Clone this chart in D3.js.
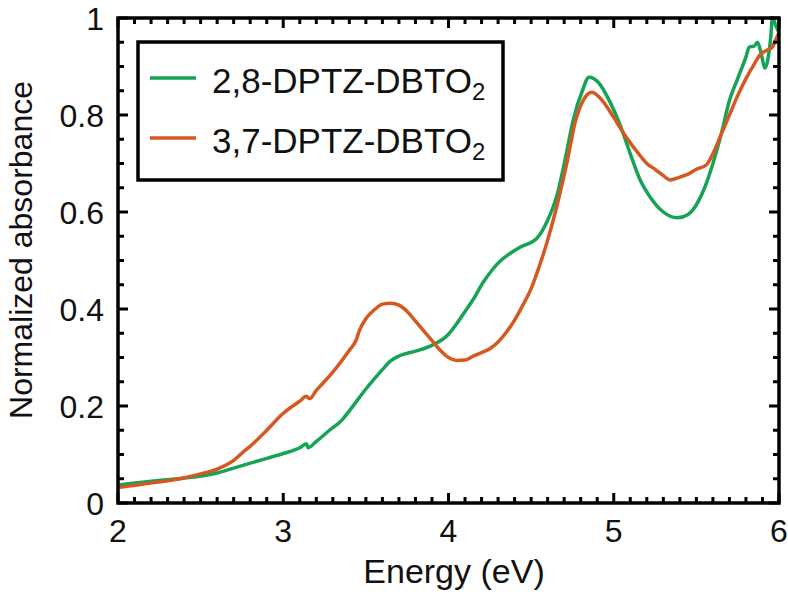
<!DOCTYPE html>
<html><head><meta charset="utf-8">
<script src="https://cdn.jsdelivr.net/npm/d3@7"></script>
<style>body{margin:0;background:#fff}svg{display:block}text{font-family:"Liberation Sans",Arial,sans-serif;fill:#111}</style>
</head><body><svg id="c" width="788" height="596"></svg>
<script>
const energyGreen = [2.0,2.2,2.39,2.6,2.75,2.9,3.0,3.1,3.14,3.15,3.2,3.28,3.355,3.4,3.5,3.6,3.65,3.7,3.8,3.9,4.0,4.05,4.1,4.15,4.21,4.27,4.31,4.37,4.43,4.535,4.6,4.66,4.705,4.755,4.81,4.85,4.905,4.98,5.04,5.1,5.16,5.22,5.3,5.383,5.45,5.5,5.55,5.6,5.65,5.7,5.75,5.8,5.82,5.85,5.87,5.89,5.915,5.93,5.95,5.96,5.98,6.0];
const absGreen = [0.037,0.045,0.051,0.062,0.077,0.092,0.102,0.114,0.122,0.114,0.127,0.15,0.171,0.19,0.235,0.275,0.293,0.303,0.313,0.325,0.348,0.37,0.395,0.42,0.455,0.483,0.498,0.514,0.527,0.546,0.583,0.639,0.707,0.79,0.85,0.878,0.868,0.825,0.778,0.72,0.666,0.631,0.60,0.588,0.595,0.615,0.65,0.70,0.76,0.83,0.875,0.92,0.94,0.942,0.95,0.93,0.897,0.91,0.96,1.0,0.985,0.97];
const energyOrange = [2.0,2.2,2.39,2.5,2.6,2.7,2.757,2.8,2.9,3.0,3.1,3.14,3.16,3.2,3.24,3.3,3.4,3.44,3.46,3.5,3.55,3.6,3.65,3.7,3.75,3.8,3.85,3.9,3.95,4.0,4.05,4.1,4.15,4.2,4.25,4.3,4.35,4.4,4.45,4.5,4.535,4.6,4.66,4.72,4.765,4.815,4.868,4.917,5.0,5.04,5.08,5.16,5.2,5.25,5.3,5.34,5.4,5.45,5.5,5.56,5.6,5.65,5.7,5.75,5.8,5.85,5.885,5.93,5.96,5.98,6.0];
const absOrange = [0.032,0.041,0.051,0.06,0.07,0.088,0.105,0.117,0.15,0.185,0.21,0.22,0.215,0.232,0.247,0.27,0.315,0.335,0.355,0.38,0.398,0.41,0.412,0.408,0.395,0.375,0.355,0.335,0.315,0.30,0.294,0.295,0.303,0.31,0.318,0.332,0.352,0.377,0.408,0.442,0.474,0.542,0.618,0.707,0.783,0.83,0.847,0.835,0.795,0.773,0.752,0.716,0.70,0.688,0.675,0.666,0.672,0.678,0.688,0.697,0.72,0.76,0.80,0.84,0.875,0.905,0.924,0.934,0.94,0.955,0.97];
const seriesNames = ["2,8-DPTZ-DBTO","3,7-DPTZ-DBTO"];
const seriesColors = ["#17a356","#d4581f"];
const xTicks = [2,3,4,5,6];
const yTicks = [0,0.2,0.4,0.6,0.8,1];
const yTickLabels = ["0","0.2","0.4","0.6","0.8","1"];

const svg = d3.select("#c");
const L=118,R=779,T=18,B=503;
const x = d3.scaleLinear().domain([2,6]).range([L,R]);
const y = d3.scaleLinear().domain([0,1]).range([B,T]);

svg.append("clipPath").attr("id","pc").append("rect").attr("x",L).attr("y",T-2).attr("width",R-L).attr("height",B-T+2);
const series = [
  {e:energyGreen,a:absGreen,c:seriesColors[0]},
  {e:energyOrange,a:absOrange,c:seriesColors[1]}
];
const line = d3.line().x(d=>x(d[0])).y(d=>y(d[1])).curve(d3.curveMonotoneX);
const g = svg.append("g").attr("clip-path","url(#pc)");
series.forEach(s=>{
  g.append("path").datum(s.e.map((e,i)=>[e,s.a[i]])).attr("d",line)
   .attr("fill","none").attr("stroke",s.c).attr("stroke-width",3.5).attr("stroke-linejoin","round");
});

// ticks
const xMinor = d3.range(20,61).map(v=>v/10);
const yMinor = d3.range(0,21).map(v=>v/20);
const tk = svg.append("g").attr("stroke","#000").attr("stroke-width",3);
function isMajorX(v){return Math.abs(v-Math.round(v))<1e-6;}
function isMajorY(v){return Math.abs(v*5-Math.round(v*5))<1e-6;}
xMinor.forEach(v=>{
  const len = isMajorX(v)?10:6;
  tk.append("line").attr("x1",x(v)).attr("x2",x(v)).attr("y1",B).attr("y2",B-len);
  tk.append("line").attr("x1",x(v)).attr("x2",x(v)).attr("y1",T).attr("y2",T+len);
});
yMinor.forEach(v=>{
  const len = isMajorY(v)?10:6;
  tk.append("line").attr("y1",y(v)).attr("y2",y(v)).attr("x1",L).attr("x2",L+len);
  tk.append("line").attr("y1",y(v)).attr("y2",y(v)).attr("x1",R).attr("x2",R-len);
});
svg.append("rect").attr("x",L).attr("y",T).attr("width",R-L).attr("height",B-T)
  .attr("fill","none").attr("stroke","#000").attr("stroke-width",3.5);

// tick labels
svg.append("g").selectAll("text").data(xTicks).join("text")
  .attr("x",d=>x(d)).attr("y",542).attr("text-anchor","middle").attr("font-size",32).text(d=>d);
svg.append("g").selectAll("text").data(yTicks).join("text")
  .attr("x",104).attr("y",d=>y(d)+11.5).attr("text-anchor","end").attr("font-size",32).text((d,i)=>yTickLabels[i]);

svg.append("text").attr("x",454).attr("y",583).attr("text-anchor","middle").attr("font-size",34).text("Energy (eV)");
svg.append("text").attr("transform","translate(32,250) rotate(-90)").attr("text-anchor","middle").attr("font-size",32).text("Normalized absorbance");

// legend
svg.append("rect").attr("x",138).attr("y",42).attr("width",365).attr("height",138)
  .attr("fill","#fff").attr("stroke","#000").attr("stroke-width",3.5);
const legY=[78,138];
seriesNames.forEach((n,i)=>{
  svg.append("line").attr("x1",150).attr("x2",196).attr("y1",legY[i]).attr("y2",legY[i])
    .attr("stroke",seriesColors[i]).attr("stroke-width",3.5);
  const t = svg.append("text").attr("x",212).attr("y",legY[i]+15).attr("font-size",35);
  t.append("tspan").text(n);
  t.append("tspan").attr("font-size",24).attr("dy",7).text("2");
});
</script></body></html>
